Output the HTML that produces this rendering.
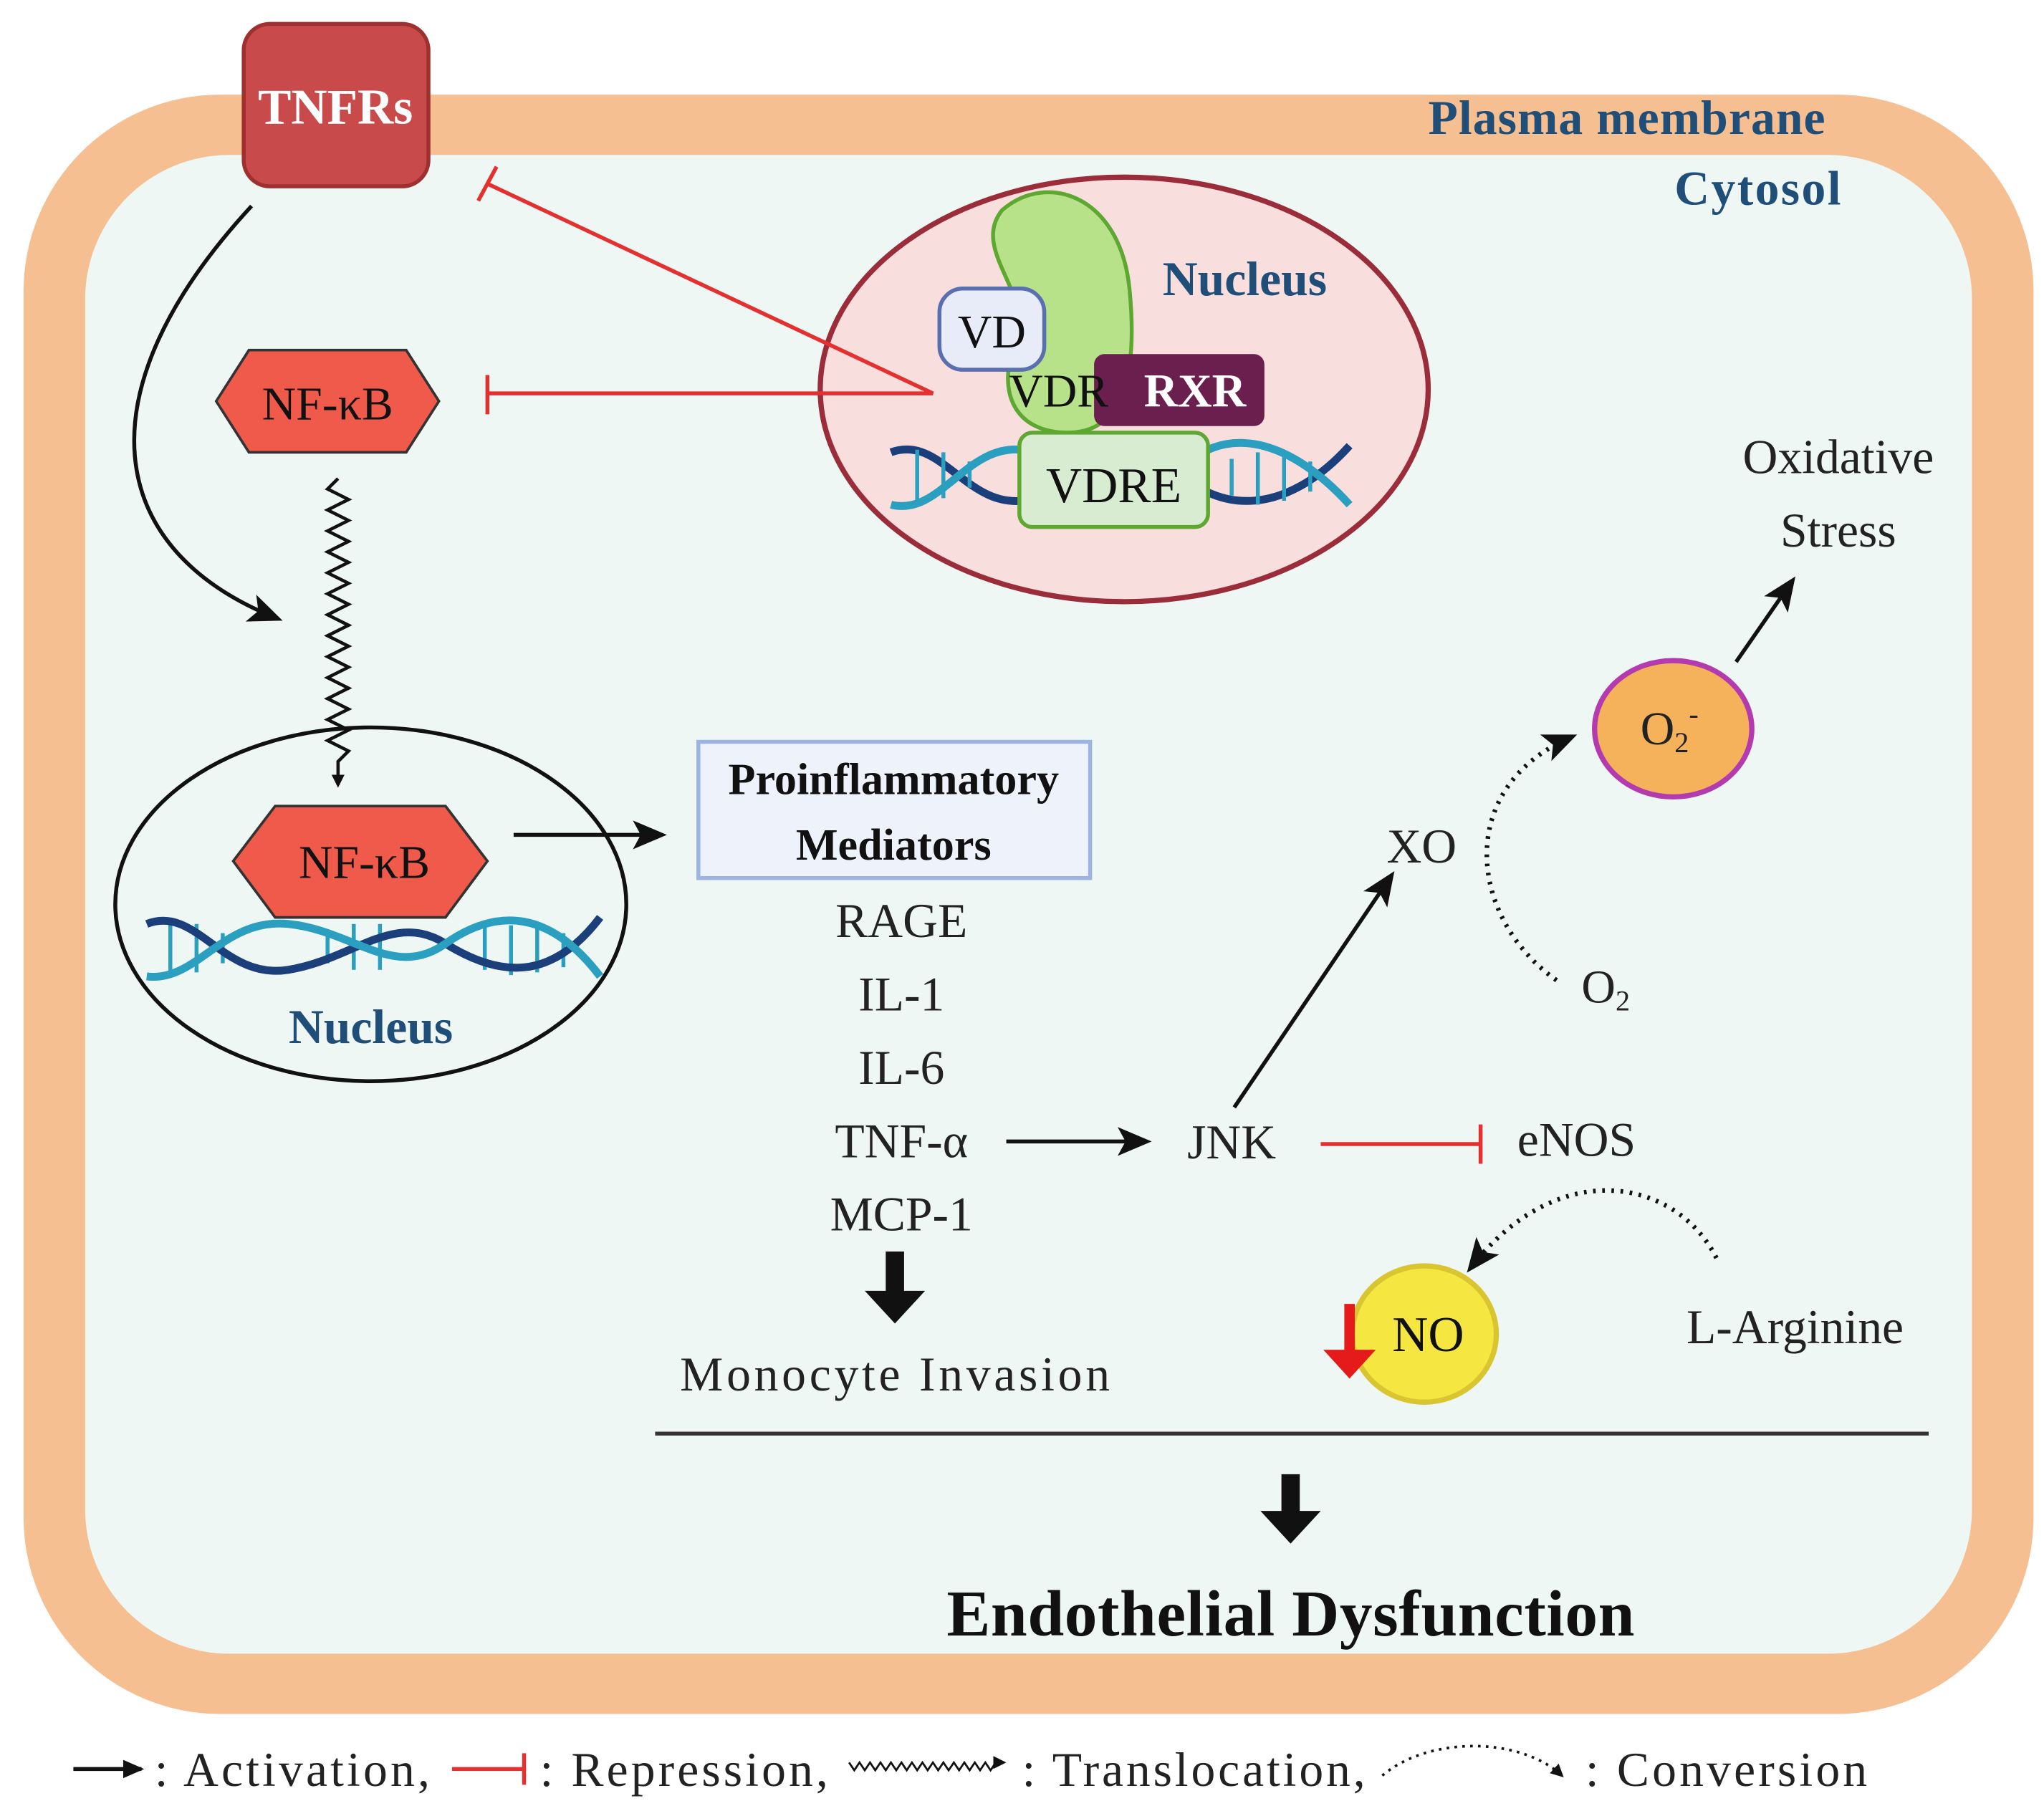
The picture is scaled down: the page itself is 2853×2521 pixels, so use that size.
<!DOCTYPE html>
<html><head><meta charset="utf-8"><style>html,body{margin:0;padding:0;background:#fff}svg{display:block}text{font-family:"Liberation Serif",serif}</style></head><body>
<svg width="2853" height="2521" viewBox="0 0 1560 1378" xmlns="http://www.w3.org/2000/svg">
<defs>
<marker id="ah" markerWidth="10" markerHeight="10" refX="8" refY="5" orient="auto" markerUnits="userSpaceOnUse" viewBox="0 0 10 10"><path d="M0,0 L10,5 L0,10 z" fill="#111"/></marker>
<marker id="ahb" markerWidth="26" markerHeight="22" refX="22" refY="11" orient="auto" markerUnits="userSpaceOnUse"><path d="M0,0 L26,11 L0,22 L6,11 z" fill="#111"/></marker>
<marker id="ahs" markerWidth="16" markerHeight="14" refX="14" refY="7" orient="auto" markerUnits="userSpaceOnUse"><path d="M0,0 L16,7 L0,14 z" fill="#111"/></marker>
</defs>
<rect x="18" y="72" width="1534" height="1236" rx="150" fill="#f5bf91"/>
<rect x="65" y="118" width="1440" height="1144" rx="110" fill="#eef7f3"/>
<text x="1090" y="102" font-size="37" font-weight="bold" fill="#1f4e79" textLength="303">Plasma membrane</text>
<text x="1278" y="156" font-size="37" font-weight="bold" fill="#1f4e79" textLength="127">Cytosol</text>
<rect x="186" y="18" width="141" height="124" rx="20" fill="#c94a4a" stroke="#9e3030" stroke-width="3"/>
<text x="256" y="94" font-size="38" font-weight="bold" fill="#fff" text-anchor="middle">TNFRs</text>
<ellipse cx="858" cy="297" rx="232" ry="162" fill="#f9dede" stroke="#9b2c3a" stroke-width="4"/>
<path d="M765,160 C800,130 855,150 862,220 C868,280 860,330 815,330 C775,330 760,300 775,260 C790,225 740,190 765,160 z" fill="#b8e28a" stroke="#5ea832" stroke-width="3"/>
<rect x="835" y="270" width="130" height="55" rx="8" fill="#6b1f4f"/>
<text x="912" y="310" font-size="36" font-weight="bold" fill="#fff" text-anchor="middle">RXR</text>
<rect x="717" y="220" width="80" height="62" rx="18" fill="#e8ecf8" stroke="#5a6fb0" stroke-width="3"/>
<text x="757" y="265" font-size="36" fill="#111" text-anchor="middle">VD</text>
<text x="808" y="310" font-size="36" fill="#111" text-anchor="middle">VDR</text>
<g stroke-width="6" fill="none">
<path d="M680,345 C720,330 740,395 790,380 S870,330 900,360 S980,395 1030,340" stroke="#1a3f7a"/>
<path d="M680,385 C720,395 740,330 790,345 S870,395 900,360 S980,330 1030,385" stroke="#2a9fc0"/>
</g>
<g stroke="#2a9fc0" stroke-width="3">
<line x1="700" y1="343" x2="700" y2="385"/><line x1="720" y1="345" x2="720" y2="380"/><line x1="740" y1="352" x2="740" y2="372"/><line x1="940" y1="350" x2="940" y2="378"/><line x1="960" y1="345" x2="960" y2="385"/><line x1="980" y1="348" x2="980" y2="382"/><line x1="1000" y1="352" x2="1000" y2="375"/>
</g>
<rect x="778" y="330" width="144" height="72" rx="10" fill="#d7ecd0" stroke="#5ea832" stroke-width="3"/>
<text x="850" y="383" font-size="38" fill="#111" text-anchor="middle">VDRE</text>
<text x="950" y="225" font-size="37" font-weight="bold" fill="#1f4e79" text-anchor="middle">Nucleus</text>
<g stroke="#e53030" stroke-width="3" fill="none">
<polyline points="372,140 712,300 372,300"/>
<line x1="365" y1="153" x2="379" y2="127"/>
<line x1="372" y1="286" x2="372" y2="316"/>
<line x1="1008" y1="873" x2="1130" y2="873"/>
<line x1="1130" y1="858" x2="1130" y2="888"/>
</g>
<polygon points="165,306 190,267 310,267 335,306 310,345 190,345" fill="#f05a4a" stroke="#333" stroke-width="2"/>
<text x="250" y="320" font-size="36" fill="#111" text-anchor="middle">NF-κB</text>
<path d="M192,157 C60,300 80,420 212,472" fill="none" stroke="#111" stroke-width="3" marker-end="url(#ahb)"/>
<path d="M258,365 l-8,8 l16,8 l-16,8 l16,8 l-16,8 l16,8 l-16,8 l16,8 l-16,8 l16,8 l-16,8 l16,8 l-16,8 l16,8 l-16,8 l16,8 l-16,8 l16,8 l-16,8 l16,8 l-16,8 l16,8 l-16,8 l16,8 l-16,8 l16,8 l-8,8 l0,18" fill="none" stroke="#111" stroke-width="2.5" marker-end="url(#ah)"/>
<ellipse cx="283" cy="690" rx="195" ry="135" fill="none" stroke="#111" stroke-width="3"/>
<g stroke="#2a9fc0" stroke-width="3">
<line x1="130" y1="705" x2="130" y2="745"/><line x1="150" y1="705" x2="150" y2="742"/><line x1="170" y1="712" x2="170" y2="735"/><line x1="250" y1="712" x2="250" y2="735"/><line x1="270" y1="705" x2="270" y2="740"/><line x1="290" y1="705" x2="290" y2="740"/><line x1="370" y1="705" x2="370" y2="740"/><line x1="390" y1="706" x2="390" y2="744"/><line x1="410" y1="708" x2="410" y2="742"/><line x1="430" y1="712" x2="430" y2="738"/>
</g>
<g stroke-width="6" fill="none">
<path d="M112,705 C150,690 170,748 220,740 S300,695 340,720 S420,750 458,700" stroke="#1a3f7a"/>
<path d="M112,745 C150,750 170,700 220,705 S300,748 340,720 S420,695 458,745" stroke="#2a9fc0"/>
</g>
<polygon points="178,657 210,615 340,615 372,657 340,700 210,700" fill="#f05a4a" stroke="#333" stroke-width="2"/>
<text x="278" y="670" font-size="36" fill="#111" text-anchor="middle">NF-κB</text>
<text x="283" y="796" font-size="37" font-weight="bold" fill="#1f4e79" text-anchor="middle">Nucleus</text>
<line x1="392" y1="637" x2="505" y2="637" stroke="#111" stroke-width="3" marker-end="url(#ahb)"/>
<rect x="533" y="566" width="299" height="104" fill="#eef2fb" stroke="#9eb3e0" stroke-width="3"/>
<text x="682" y="606" font-size="34" font-weight="bold" fill="#111" text-anchor="middle">Proinflammatory</text>
<text x="682" y="656" font-size="34" font-weight="bold" fill="#111" text-anchor="middle">Mediators</text>
<g font-size="37" fill="#222" text-anchor="middle">
<text x="688" y="715">RAGE</text><text x="688" y="771">IL-1</text><text x="688" y="827">IL-6</text><text x="688" y="883">TNF-α</text><text x="688" y="939">MCP-1</text>
<text x="683" y="1061" textLength="328">Monocyte Invasion</text>
<text x="940" y="884">JNK</text>
<text x="1085" y="658">XO</text>
<text x="1403" y="361">Oxidative</text><text x="1403" y="417">Stress</text>
</g>
<polygon points="676,955 690,955 690,985 706,985 683,1010 660,985 676,985" fill="#111"/>
<line x1="768" y1="871" x2="875" y2="871" stroke="#111" stroke-width="3" marker-end="url(#ahb)"/>
<text x="1158" y="882" font-size="37" fill="#222">eNOS</text>
<line x1="942" y1="845" x2="1062" y2="668" stroke="#111" stroke-width="3" marker-end="url(#ahb)"/>
<path d="M1188,748 C1120,700 1110,600 1200,562" fill="none" stroke="#111" stroke-width="3.5" stroke-dasharray="2,5" marker-end="url(#ahb)"/>
<text x="1207" y="765" font-size="36" fill="#222">O<tspan font-size="22" dy="6">2</tspan></text>
<ellipse cx="1277" cy="556" rx="60" ry="52" fill="#f5b25a" stroke="#b43ab0" stroke-width="4"/>
<text x="1252" y="568" font-size="36" fill="#222">O<tspan font-size="22" dy="6">2</tspan><tspan font-size="22" dy="-22">-</tspan></text>
<line x1="1325" y1="505" x2="1368" y2="443" stroke="#111" stroke-width="3" marker-end="url(#ahb)"/>
<path d="M1310,960 C1280,900 1190,880 1122,968" fill="none" stroke="#111" stroke-width="3.5" stroke-dasharray="2,5" marker-end="url(#ahb)"/>
<ellipse cx="1087" cy="1018" rx="55" ry="52" fill="#f5e642" stroke="#d9c530" stroke-width="4"/>
<text x="1090" y="1031" font-size="38" fill="#111" text-anchor="middle">NO</text>
<polygon points="1026,995 1034,995 1034,1030 1050,1030 1030,1052 1010,1030 1026,1030" fill="#e51a1a"/>
<text x="1370" y="1025" font-size="37" fill="#222" text-anchor="middle">L-Arginine</text>
<line x1="500" y1="1094" x2="1472" y2="1094" stroke="#333" stroke-width="3"/>
<polygon points="978,1125 992,1125 992,1153 1008,1153 985,1178 962,1153 978,1153" fill="#111"/>
<text x="985" y="1248" font-size="50" font-weight="bold" fill="#111" text-anchor="middle" textLength="525">Endothelial Dysfunction</text>
<line x1="56" y1="1350" x2="108" y2="1350" stroke="#111" stroke-width="3" marker-end="url(#ahs)"/>
<text x="118" y="1363" font-size="37" fill="#222" textLength="210">: Activation,</text>
<line x1="345" y1="1350" x2="400" y2="1350" stroke="#e53030" stroke-width="3"/>
<line x1="400" y1="1338" x2="400" y2="1362" stroke="#e53030" stroke-width="3"/>
<text x="412" y="1363" font-size="37" fill="#222" textLength="220">: Repression,</text>
<path d="M648,1345 l4,6 l4,-6 l4,6 l4,-6 l4,6 l4,-6 l4,6 l4,-6 l4,6 l4,-6 l4,6 l4,-6 l4,6 l4,-6 l4,6 l4,-6 l4,6 l4,-6 l4,6 l4,-6 l4,6 l4,-6 l4,6 l4,-6 l4,6 l4,-6 l4,6 l4,-6 l6,0" fill="none" stroke="#111" stroke-width="1.5" marker-end="url(#ah)"/>
<text x="780" y="1363" font-size="37" fill="#222" textLength="262">: Translocation,</text>
<path d="M1055,1355 C1090,1325 1160,1325 1192,1355" fill="none" stroke="#111" stroke-width="2" stroke-dasharray="2,4" marker-end="url(#ah)"/>
<text x="1210" y="1363" font-size="37" fill="#222" textLength="215">: Conversion</text>
</svg>
</body></html>
